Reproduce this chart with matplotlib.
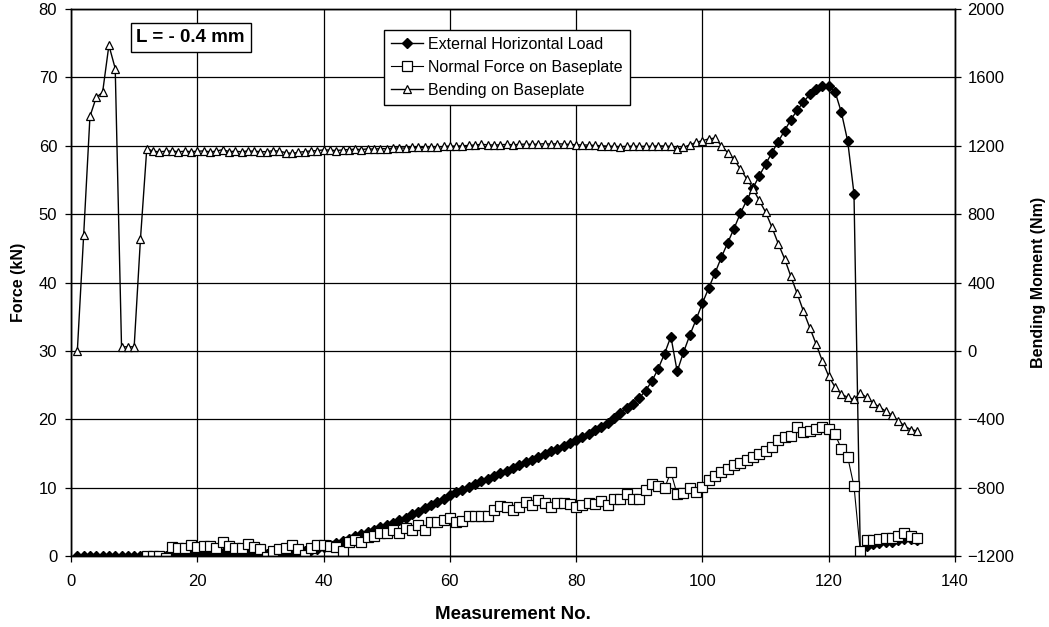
import numpy as np
import matplotlib
matplotlib.use("Agg")
import matplotlib.pyplot as plt

plt.rcParams['font.family'] = ['Liberation Sans', 'DejaVu Sans']

# Measurement numbers
measurement = list(range(1, 135))

# External Horizontal Load (kN)
load = ([0.0] * 15 +
        [0.3, 0.3, 0.4, 0.4, 0.3, 0.4, 0.4, 0.3, 0.4, 0.4, 0.3, 0.3, 0.4, 0.3, 0.3,
         0.3, 0.4, 0.4, 0.5, 0.5,                                   # 16-35
         0.6, 0.8, 0.9, 1.1, 1.3, 1.6, 1.9, 2.2, 2.5, 2.9,           # 36-45
         3.2, 3.5, 3.8, 4.2, 4.5, 4.9, 5.2, 5.6, 6.1, 6.5,           # 46-55
         7.0, 7.4, 7.9, 8.4, 8.9, 9.3, 9.7, 10.1, 10.5, 10.9,        # 56-65
         11.3, 11.7, 12.1, 12.5, 12.9, 13.3, 13.7, 14.1, 14.5, 14.9, # 66-75
         15.3, 15.7, 16.1, 16.5, 17.0, 17.4, 17.9, 18.4, 18.9, 19.5, # 76-85
         20.2, 20.9, 21.6, 22.3, 23.1, 24.2, 25.6, 27.4, 29.6, 32.1, # 86-95
         27.0, 29.8, 32.3, 34.6, 37.0, 39.2, 41.4, 43.7, 45.8, 47.9, # 96-105
         50.1, 52.0, 53.8, 55.6, 57.3, 59.0, 60.6, 62.2, 63.8, 65.2, # 106-115
         66.4, 67.5, 68.3, 68.8, 68.7, 67.9, 64.9, 60.7, 53.0, 0.5,  # 116-125
         1.4, 1.7, 1.9, 2.0, 2.1, 2.3, 2.5, 2.5, 2.4])               # 126-134

# Normal Force on Baseplate (kN); not recorded for the first 11 measurements
normal = ([np.nan] * 11 +
          [0.0, 0.0, 0.0, -0.3,                                       # 12-15
           1.3, 1.2, 1.2, 1.6, 1.3, 1.5, 1.4, 1.2, 2.0, 1.5,           # 16-25
           1.2, 1.2, 1.8, 1.3, 1.0, -0.1, 0.8, 1.0, 1.2, 1.6,          # 26-35
           1.0, 0.2, 1.2, 1.6, 1.6, 1.4, 1.3, 0.8, 2.0, 2.3,           # 36-45
           2.0, 2.8, 3.0, 3.3, 3.3, 3.8, 3.4, 4.1, 3.8, 4.5,           # 46-55
           3.8, 5.0, 5.0, 5.2, 5.6, 5.0, 5.1, 5.8, 5.8, 5.8,           # 56-65
           5.9, 6.7, 7.3, 7.1, 6.8, 7.1, 7.9, 7.4, 8.2, 7.7,           # 66-75
           7.1, 7.7, 7.7, 7.6, 7.1, 7.4, 7.7, 7.6, 8.1, 7.4,           # 76-85
           8.4, 8.4, 9.0, 8.4, 8.4, 9.6, 10.5, 10.3, 9.9, 12.3,        # 86-95
           9.0, 9.2, 9.9, 9.4, 10.1, 11.1, 11.7, 12.3, 12.8, 13.3,     # 96-105
           13.6, 14.1, 14.5, 14.9, 15.4, 15.9, 16.9, 17.4, 17.6, 18.9, # 106-115
           18.1, 18.3, 18.6, 18.9, 18.6, 17.8, 15.7, 14.5, 10.2, 0.7,  # 116-125
           2.3, 2.4, 2.5, 2.7, 2.7, 3.0, 3.4, 3.0, 2.7])               # 126-134

# Bending on Baseplate (Nm)
bending = ([0, 676, 1372, 1484, 1512, 1788, 1652, 24, 24, 24, 656, 1184,      # 1-12
            1168, 1165, 1168, 1170, 1165, 1168, 1166, 1168, 1170, 1165,         # 13-22
            1168, 1178, 1166, 1168, 1165, 1170, 1168, 1166, 1165, 1172,         # 23-32
            1168, 1160, 1155, 1162, 1166, 1170, 1172, 1176,                     # 33-40
            1175, 1172, 1176, 1178, 1180, 1178, 1182, 1180, 1184, 1182,         # 41-50
            1186, 1188, 1186, 1190, 1192, 1190, 1195, 1192, 1196, 1198,         # 51-60
            1198, 1200, 1202, 1205, 1208, 1206, 1204, 1206, 1208, 1206,         # 61-70
            1208, 1210, 1208, 1210, 1212, 1210, 1212, 1210, 1208, 1206,         # 71-80
            1205, 1204, 1202, 1200, 1198, 1196, 1195, 1196, 1198, 1196,         # 81-90
            1197, 1196, 1200, 1198, 1196, 1180, 1190, 1205, 1220, 1230,         # 91-100
            1240, 1245, 1200, 1160, 1120, 1064, 1008, 948, 880, 812,            # 101-110
            724, 628, 540, 436, 336, 232, 136, 40, -60, -148,                   # 111-120
            -212, -252, -272, -284, -248, -272, -304, -328, -352, -376,         # 121-130
            -408, -440, -460, -468])                                            # 131-134

series_names = ["External Horizontal Load", "Normal Force on Baseplate", "Bending on Baseplate"]
annotation = "L = - 0.4 mm"

fig = plt.figure(figsize=(10.49, 6.27), dpi=100)
ax = fig.add_axes([0.0677, 0.1132, 0.8427, 0.8724])
ax2 = ax.twinx()

l1, = ax.plot(measurement, load, color='black', lw=1.0, marker='D', markersize=5,
              markerfacecolor='black', markeredgecolor='black', label=series_names[0])
l2, = ax.plot(measurement, normal, color='black', lw=0.8, marker='s', markersize=6.5,
              markerfacecolor='white', markeredgecolor='black', markeredgewidth=0.9,
              label=series_names[1])
l3, = ax2.plot(measurement, bending, color='black', lw=1.0, marker='^', markersize=6,
               markerfacecolor='white', markeredgecolor='black', markeredgewidth=0.9,
               label=series_names[2])

ax.set_xlim(0, 140)
ax.set_ylim(0, 80)
ax2.set_ylim(-1200, 2000)
ax.set_xticks(np.arange(0, 141, 20))
ax.set_yticks(np.arange(0, 81, 10))
ax2.set_yticks(np.arange(-1200, 2001, 400))

ax.grid(True, color='black', lw=0.9)
ax.set_axisbelow(True)

for a in (ax, ax2):
    a.tick_params(labelsize=12, direction='out', length=4, width=0.9, colors='black')
    for s in a.spines.values():
        s.set_linewidth(1.0)
        s.set_color('black')
ax.tick_params(axis='x', pad=9)
ax.tick_params(axis='y', pad=6)
ax2.tick_params(axis='y', pad=5)

ax.set_xlabel("Measurement No.", fontsize=13.5, fontweight='bold', labelpad=12)
ax.set_ylabel("Force (kN)", fontsize=11.5, fontweight='bold', labelpad=9)
ax2.set_ylabel("Bending Moment (Nm)", fontsize=11.5, fontweight='bold', labelpad=12)

leg = ax2.legend(handles=[l1, l2, l3], loc='upper left', bbox_to_anchor=(0.354, 0.962),
                 fontsize=11.5, frameon=True, fancybox=False, framealpha=1,
                 edgecolor='black', borderpad=0.45, labelspacing=0.5, handlelength=2.0,
                 handletextpad=0.3, borderaxespad=0)
leg.get_frame().set_linewidth(1.0)

ax2.text(0.074, 0.948, annotation, transform=ax.transAxes, fontsize=13.5, fontweight='bold',
         va='center', ha='left',
         bbox=dict(boxstyle='square,pad=0.3', facecolor='white', edgecolor='black', lw=1.0))

fig.savefig("out.png", dpi=100)
